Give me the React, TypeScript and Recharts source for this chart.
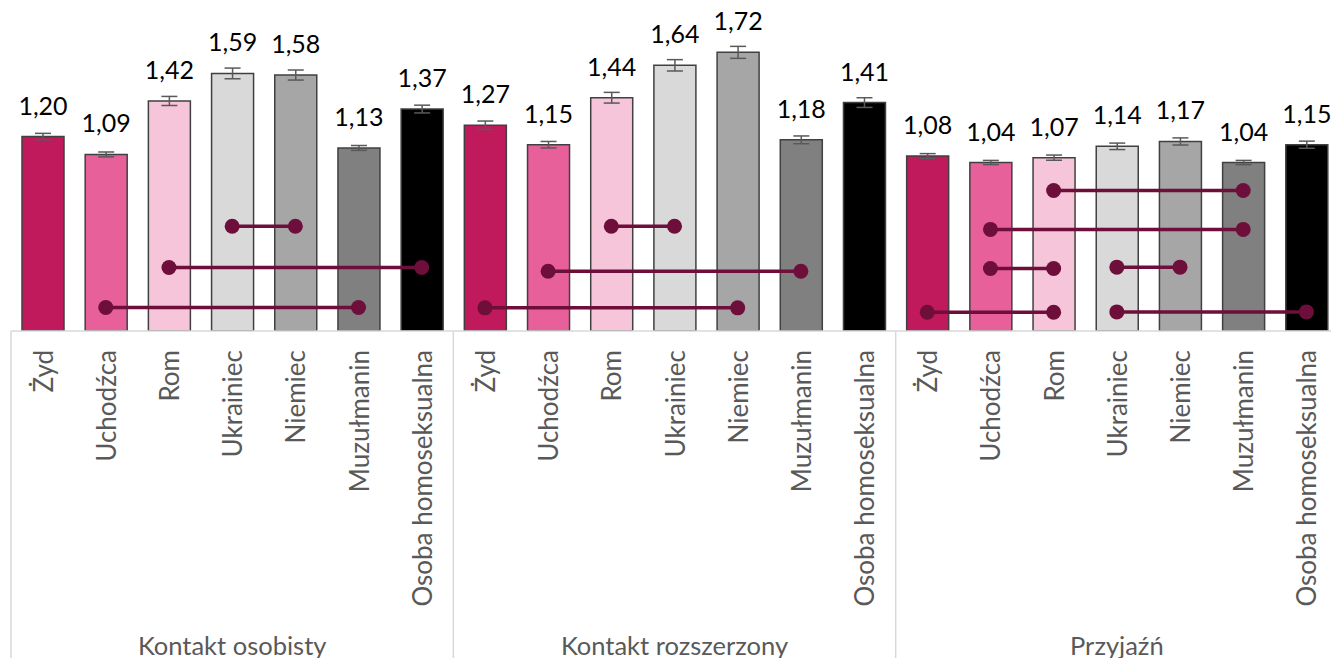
import { ComposedChart, Bar, Line, XAxis, YAxis, Cell, ErrorBar, LabelList } from 'recharts';

const CATEGORIES = ['Żyd', 'Uchodźca', 'Rom', 'Ukrainiec', 'Niemiec', 'Muzułmanin', 'Osoba homoseksualna'];
const GROUPS = ['Kontakt osobisty', 'Kontakt rozszerzony', 'Przyjaźń'];

const OSOBISTY = [1.2, 1.09, 1.42, 1.59, 1.58, 1.13, 1.37];
const ROZSZERZONY = [1.27, 1.15, 1.44, 1.64, 1.72, 1.18, 1.41];
const PRZYJAZN = [1.08, 1.04, 1.07, 1.14, 1.17, 1.04, 1.15];

const ERR_OSOBISTY = [0.02, 0.015, 0.028, 0.033, 0.031, 0.015, 0.024];
const ERR_ROZSZERZONY = [0.026, 0.02, 0.033, 0.035, 0.037, 0.024, 0.03];
const ERR_PRZYJAZN = [0.015, 0.013, 0.016, 0.02, 0.022, 0.013, 0.022];

// significance connectors: [from category, to category, height]
const CONN_OSOBISTY = [[3, 4, 0.647], [2, 6, 0.392], [1, 5, 0.145]];
const CONN_ROZSZERZONY = [[2, 3, 0.647], [1, 5, 0.369], [0, 4, 0.143]];
const CONN_PRZYJAZN = [[2, 5, 0.867], [1, 5, 0.627], [1, 2, 0.386], [3, 4, 0.394], [0, 2, 0.116], [3, 6, 0.118]];

const VALUES = [OSOBISTY, ROZSZERZONY, PRZYJAZN];
const ERRORS = [ERR_OSOBISTY, ERR_ROZSZERZONY, ERR_PRZYJAZN];
const CONNECTORS = [CONN_OSOBISTY, CONN_ROZSZERZONY, CONN_PRZYJAZN];

const COLORS = ['#C0195C', '#E8609A', '#F6C5DA', '#D9D9D9', '#A6A6A6', '#808080', '#000000'];
const LINK = '#6D0E3B';
const FONT = 'Lato, sans-serif';

const W = 1340;
const H = 660;
const MARGIN = { top: 7, right: 2, left: 11, bottom: 0 };
const SLOT = (W - MARGIN.left - MARGIN.right) / 21;

const links: { key: string; from: number; to: number; y: number }[] = [];
CONNECTORS.forEach((list, g) =>
  list.forEach(([a, b, y], i) => links.push({ key: `c${g}_${i}`, from: g * 7 + a, to: g * 7 + b, y }))
);

const rows = GROUPS.flatMap((group, g) =>
  CATEGORIES.map((name, c) => {
    const idx = g * 7 + c;
    const row: any = { key: `${g}-${c}`, name, group, ci: c, value: VALUES[g][c], err: ERRORS[g][c] };
    links.forEach((l) => {
      if (l.from === idx || l.to === idx) row[l.key] = l.y;
    });
    return row;
  })
);

const CategoryTick = (props: any) => {
  const { x, y, payload, index } = props;
  const row = rows[index];
  if (!row) return null;
  const half = payload?.offset || SLOT / 2;
  return (
    <g>
      <text
        transform={`translate(${x + 10},${y + 19}) rotate(-90)`}
        textAnchor="end"
        fill="#595959"
        fontSize={26}
        fontFamily={FONT}
      >
        {row.name}
      </text>
      {row.ci === 0 && <line x1={x - half} x2={x - half} y1={y} y2={y + 340} stroke="#D9D9D9" strokeWidth={1.5} />}
      {index === rows.length - 1 && (
        <line x1={x + half} x2={x + half} y1={y} y2={y + 340} stroke="#D9D9D9" strokeWidth={1.5} />
      )}
      {row.ci === 3 && (
        <text x={x} y={y + 324} textAnchor="middle" fill="#595959" fontSize={25.5} fontFamily={FONT}>
          {row.group}
        </text>
      )}
    </g>
  );
};

const ValueLabel = (props: any) => {
  const { x, y, width, value } = props;
  return (
    <text x={x + width / 2} y={y - 22} textAnchor="middle" fill="#000" fontSize={25} fontFamily={FONT}>
      {Number(value).toFixed(2).replace('.', ',')}
    </text>
  );
};

export default function App() {
  return (
    <div style={{ position: 'absolute', left: 0, top: 0, width: 1331, height: 658, overflow: 'hidden', background: '#fff' }}>
      <ComposedChart width={W} height={H} data={rows} margin={MARGIN} barSize={42}>
        <XAxis
          dataKey="key"
          height={329}
          interval={0}
          tickLine={false}
          tickSize={0}
          tickMargin={0}
          axisLine={{ stroke: '#D9D9D9', strokeWidth: 1.5 }}
          tick={<CategoryTick />}
        />
        <YAxis hide domain={[0, 2]} allowDataOverflow />
        <Bar dataKey="value" isAnimationActive={false} stroke="#404040" strokeWidth={1.5}>
          {rows.map((r) => (
            <Cell key={r.key} fill={COLORS[r.ci]} />
          ))}
          <ErrorBar dataKey="err" width={8} stroke="#595959" strokeWidth={1.5} direction="y" />
          <LabelList dataKey="value" content={<ValueLabel />} />
        </Bar>
        {links.map((l) => (
          <Line
            key={l.key}
            dataKey={l.key}
            connectNulls
            isAnimationActive={false}
            stroke={LINK}
            strokeWidth={3.5}
            dot={{ r: 7.5, fill: LINK, stroke: LINK, strokeWidth: 0 }}
            activeDot={false}
            legendType="none"
          />
        ))}
      </ComposedChart>
    </div>
  );
}
